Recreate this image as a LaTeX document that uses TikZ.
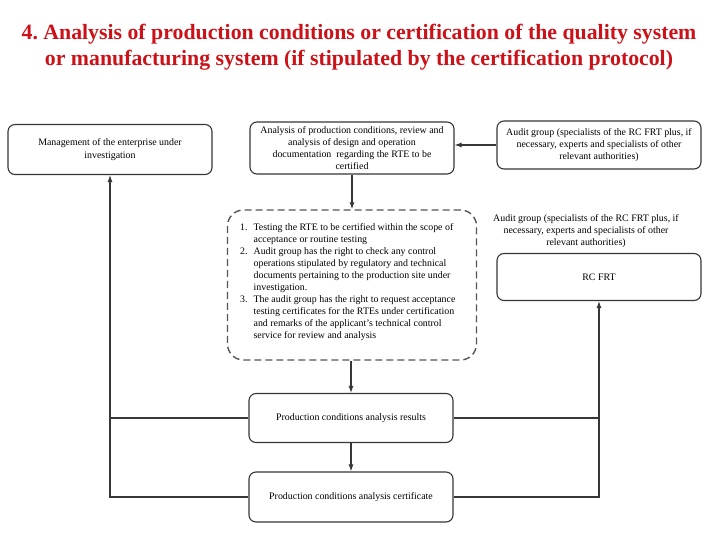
\documentclass[tikz,border=0pt]{standalone}
\usepackage{fontspec}
\setmainfont{Liberation Serif}
\usetikzlibrary{arrows.meta}
\definecolor{titlered}{RGB}{204,18,24}
\definecolor{linegray}{RGB}{55,55,55}
\frenchspacing
\tikzset{
  box/.style={draw=linegray, line width=1.1pt, rounded corners=7pt, fill=white,
    align=center, font=\fontsize{9.9}{12.2}\selectfont, inner sep=2pt},
  dbox/.style={draw=linegray!85, line width=1.4pt, dash pattern=on 7pt off 4pt,
    rounded corners=16pt, fill=white},
  conn/.style={draw=linegray, line width=1.1pt},
  arr/.style={conn, -{Latex[length=7pt,width=5pt]}},
  plain/.style={align=center, font=\fontsize{9.9}{11.6}\selectfont, inner sep=0pt}
}
\begin{document}
\begin{tikzpicture}[x=1pt,y=-1pt]
\useasboundingbox (0,0) rectangle (720,540);
\fill[white] (0,0) rectangle (720,540);

\node[align=center, text=titlered, font=\fontsize{21.8}{26}\selectfont\bfseries, inner sep=0pt]
  (title) at (359,47) {4. Analysis of production conditions or certification of the quality system\\
  or manufacturing system (if stipulated by the certification protocol)};

\node[box, minimum width=204pt, minimum height=50pt] (mgmt) at (110,149.5)
  {Management of the enterprise under\\investigation};
\node[box, minimum width=204pt, minimum height=52pt] (anal) at (352,148)
  {Analysis of production conditions, review and\\analysis of design and operation\\
   documentation\ \ regarding the RTE to be\\certified};
\node[box, minimum width=204pt, minimum height=48pt] (audit) at (599,145)
  {Audit group (specialists of the RC FRT plus, if\\necessary, experts and specialists of other\\relevant authorities)};

\node[dbox, minimum width=249pt, minimum height=150pt] (test) at (352,285) {};
\node[anchor=north west, inner sep=0pt, font=\fontsize{9.9}{12}\selectfont] (list) at (240,221.5)
  {\begin{tabular}{@{}r@{\hspace{6pt}}l@{}}
   1. & Testing the RTE to be certified within the scope of\\
      & acceptance or routine testing\\
   2. & Audit group has the right to check any control\\
      & operations stipulated by regulatory and technical\\
      & documents pertaining to the production site under\\
      & investigation.\\
   3. & The audit group has the right to request acceptance\\
      & testing certificates for the RTEs under certification\\
      & and remarks of the applicant's technical control\\
      & service for review and analysis
   \end{tabular}};

\node[plain] (auditnote) at (586,231)
  {Audit group (specialists of the RC FRT plus, if\\necessary, experts and specialists of other\\relevant authorities)};
\node[box, minimum width=204pt, minimum height=47pt] (rc) at (599,277) {RC FRT};

\node[box, minimum width=204pt, minimum height=49pt] (res) at (351,418)
  {Production conditions analysis results};
\node[box, minimum width=204pt, minimum height=50pt] (cert) at (351,497)
  {Production conditions analysis certificate};

\draw[arr] (audit.west) -- (anal.east |- audit.west);
\draw[arr] (anal.south) -- (anal.south |- test.north);
\draw[arr] (res.north |- test.south) -- (res.north);
\draw[arr] (res.south) -- (cert.north);

\draw[arr] (cert.west) -| (mgmt.south);
\draw[conn] (res.west) -- (res.west -| mgmt.south);
\draw[arr] (cert.east) -| (rc.south);
\draw[conn] (res.east) -- (res.east -| rc.south);
\end{tikzpicture}
\end{document}
